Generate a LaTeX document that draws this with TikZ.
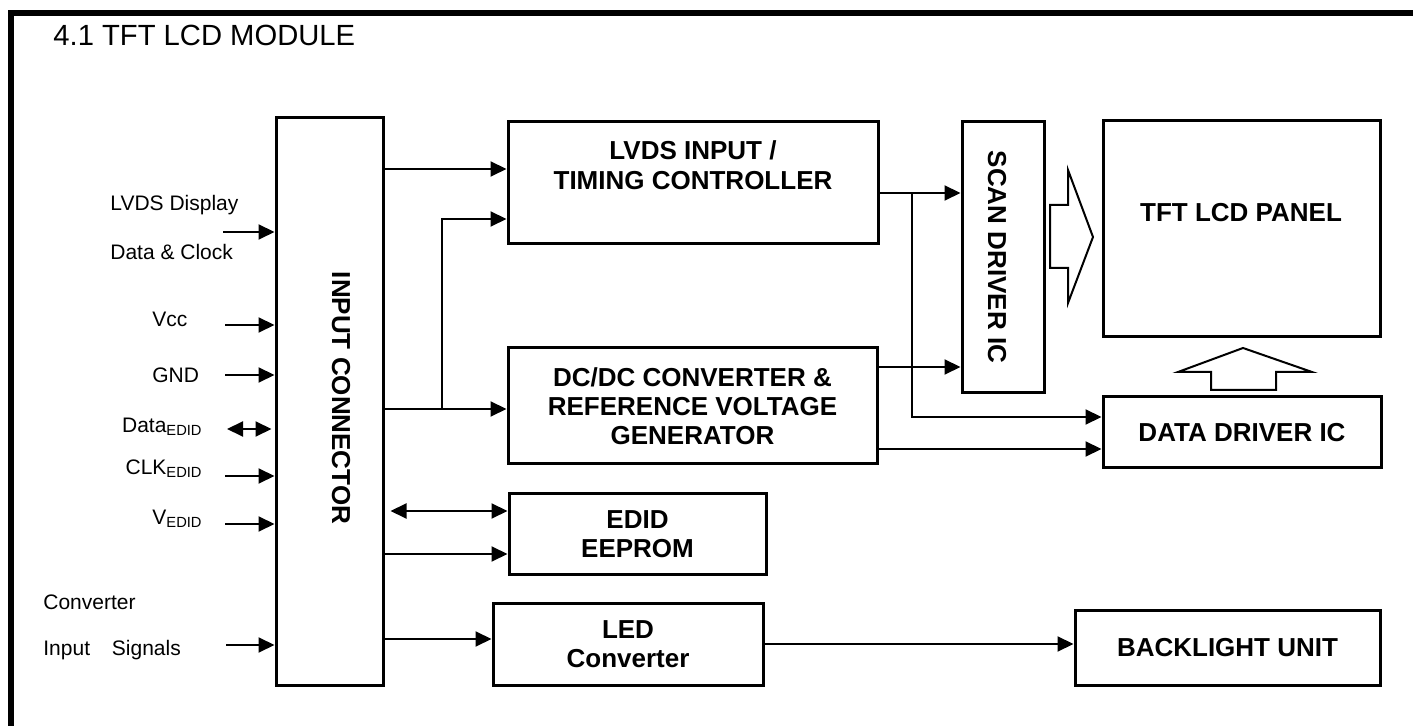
\documentclass[tikz,border=0pt]{standalone}
\usepackage{fontspec}
\setmainfont{Liberation Sans}
\usetikzlibrary{arrows.meta}
\tikzset{
	blk/.style={draw, line width=1.5pt, inner sep=0pt, align=center, font=\fontsize{13}{14.5}\selectfont\bfseries},
	btxt/.style={inner sep=0pt, align=center, font=\fontsize{13}{15}\selectfont\bfseries},
	sig/.style={inner sep=0pt, font=\fontsize{10.5}{12}\selectfont},
	arr/.style={line width=1pt, -{Triangle[length=8pt,width=7.5pt]}},
	darr/.style={line width=1pt, {Triangle[length=8pt,width=7.5pt]}-{Triangle[length=8pt,width=7.5pt]}},
	hollow/.style={line width=1pt, line join=miter}
}
\begin{document}
\begin{tikzpicture}[x=0.5pt, y=-0.5pt]
			\useasboundingbox (0,0) rectangle (1413,726);
			\draw[line width=3pt] (10.5,726) -- (10.5,13) -- (1413,13);
			\node[anchor=base west, inner sep=0pt, font=\fontsize{14.6}{16}\selectfont] (title) at (53,46) {4.1 TFT LCD MODULE};
			\node[blk, minimum width=53.5pt, minimum height=283.5pt] (conn) at (329.5,401.5) {};
			\node[btxt, rotate=-90] (conntxt) at (341,398) {INPUT CONNECTOR};
			\node[blk, minimum width=185pt, minimum height=61pt] (lvds) at (693,183) {};
			\node[btxt] (lvdstxt) at (693,165) {LVDS INPUT /\\TIMING CONTROLLER};
			\node[blk, minimum width=184.5pt, minimum height=58pt] (dcdc) at (692.5,406) {DC/DC CONVERTER \&\\REFERENCE VOLTAGE\\GENERATOR};
			\node[blk, minimum width=128.5pt, minimum height=40.5pt] (edid) at (637.5,534.5) {EDID\\EEPROM};
			\node[blk, minimum width=135pt, minimum height=41pt] (led) at (628,644) {LED\\Converter};
			\node[blk, minimum width=41pt, minimum height=135.5pt] (scan) at (1003,257.5) {};
			\node[btxt, rotate=-90] (scantxt) at (997,257) {SCAN DRIVER IC};
			\node[blk, minimum width=138.5pt, minimum height=108pt] (panel) at (1241.5,229) {};
			\node[btxt] (paneltxt) at (1241,213) {TFT LCD PANEL};
			\node[blk, minimum width=139pt, minimum height=35.5pt] (ddrv) at (1242,432.5) {DATA DRIVER IC};
			\node[blk, minimum width=152.5pt, minimum height=37.5pt] (blu) at (1227.5,647.5) {BACKLIGHT UNIT};

			\node[sig, anchor=west] (lvdsin) at (110,205) {LVDS Display};
			\node[sig, anchor=west] (clkin) at (110,252) {Data \& Clock};
			\node[sig, anchor=west] (vcc) at (152,319) {Vcc};
			\node[sig, anchor=west] (gnd) at (152,375) {GND};
			\node[sig, anchor=east] (dataedid) at (203,427) {Data\textsubscript{EDID}};
			\node[sig, anchor=east] (clkedid) at (203,469) {CLK\textsubscript{EDID}};
			\node[sig, anchor=east] (vedid) at (203,519) {V\textsubscript{EDID}};
			\node[sig, anchor=west] (convin) at (43,602) {Converter};
			\node[sig, anchor=west] (sigin) at (43,650) {Input\hspace{8pt} Signals};

			\coordinate (aLVDS) at (223,232);
			\coordinate (aVcc) at (225,325);
			\coordinate (aGND) at (225,375);
			\coordinate (aData) at (227,429);
			\coordinate (aCLK) at (225,476);
			\coordinate (aV) at (225,524);
			\coordinate (aConv) at (226,645);
			\draw[arr] (aLVDS) -- (conn.west |- aLVDS);
			\draw[arr] (aVcc) -- (conn.west |- aVcc);
			\draw[arr] (aGND) -- (conn.west |- aGND);
			\draw[darr, shorten >=1.5pt] (aData) -- (conn.west |- aData);
			\draw[arr] (aCLK) -- (conn.west |- aCLK);
			\draw[arr] (aV) -- (conn.west |- aV);
			\draw[arr] (aConv) -- (conn.west |- aConv);

			\draw[arr] (conn.east |- 0,169) -- (lvds.west |- 0,169);
			\draw[arr] (conn.east |- 0,409) -- (dcdc.west |- 0,409);
			\coordinate (br1) at (442,409);
			\draw[arr] (br1) |- (lvds.west |- 0,219);
			\draw[arr] (lvds.east |- 0,193) -- (scan.west |- 0,193);
			\coordinate (br2) at (912,193);
			\draw[arr] (br2) |- (ddrv.west |- 0,417);
			\draw[arr] (dcdc.east |- 0,367) -- (scan.west |- 0,367);
			\draw[arr] (dcdc.east |- 0,449) -- (ddrv.west |- 0,449);
			\draw[darr, shorten <=3pt] (conn.east |- 0,511) -- (edid.west |- 0,511);
			\draw[arr] (conn.east |- 0,554) -- (edid.west |- 0,554);
			\draw[arr] (conn.east |- 0,639) -- (led.west |- 0,639);
			\draw[arr] (led.east |- 0,644) -- (blu.west |- 0,644);

			\draw[hollow] (1050,205) -- (1068,205) -- (1068,170) -- (1093,237) -- (1068,303) -- (1068,268) -- (1050,268) -- cycle;
			\draw[hollow] (1211,390) -- (1211,372) -- (1178,372) -- (1243,348) -- (1312,372) -- (1276,372) -- (1276,390) -- cycle;
\end{tikzpicture}
\end{document}
